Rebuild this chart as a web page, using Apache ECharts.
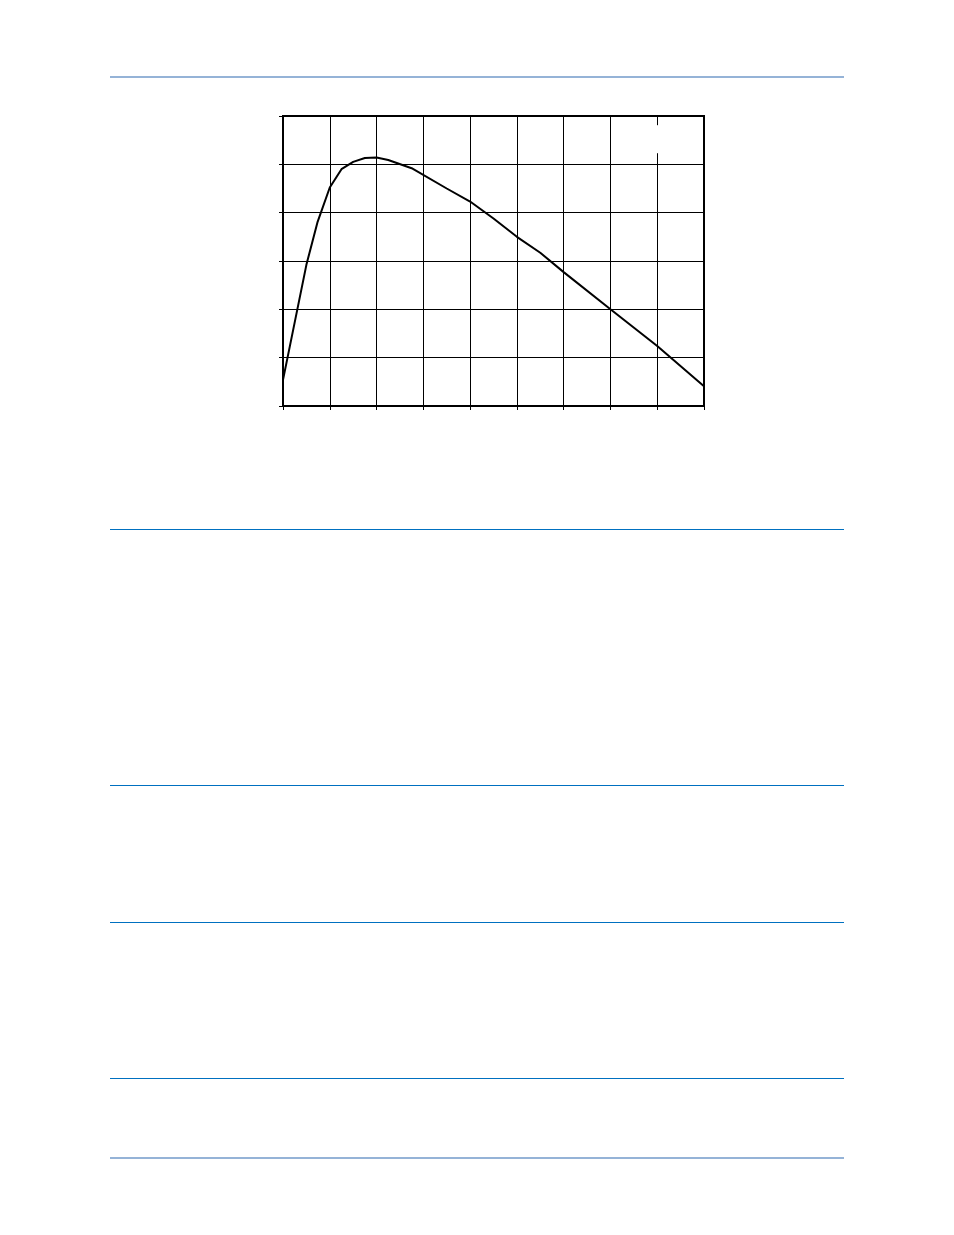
<!DOCTYPE html>
<html lang="en">
  <head>
    <meta charset="UTF-8" />
    <title>Curve chart</title>
    <script src="https://cdn.jsdelivr.net/npm/echarts@6.0.0/dist/echarts.min.js"></script>
    <style>
      html, body { margin: 0; padding: 0; background: #fff; }
      #main { width: 954px; height: 1235px; }
    </style>
  </head>
  <body>
    <div id="main"></div>

    <script>
      // values (grid units, 9 x 6 cells)
      const xValues = [0, 0.5, 0.74, 1, 1.25, 1.5, 1.75, 2, 2.25, 2.75, 3.5, 4, 4.5, 5, 5.5, 6, 7, 8, 9];
      const yValues = [0.54, 2.92, 3.81, 4.52, 4.9, 5.05, 5.13, 5.14, 5.09, 4.92, 4.5, 4.23, 3.88, 3.5, 3.17, 2.77, 2.0, 1.24, 0.41];
      const xRange = [0, 9];
      const yRange = [0, 6];

      // horizontal rules of the page
      const pageRules = [
        { y: 77, color: '#95b3d7', width: 2 },
        { y: 529.5, color: '#0070c0', width: 1 },
        { y: 785.5, color: '#0070c0', width: 1 },
        { y: 922.5, color: '#0070c0', width: 1 },
        { y: 1078.5, color: '#0070c0', width: 1 },
        { y: 1158, color: '#95b3d7', width: 2 },
      ];

      const points = xValues.map((x, i) => [x, yValues[i]]);

      const axisCommon = {
        type: 'value',
        interval: 1,
        axisLabel: { show: false },
        axisLine: { show: true, lineStyle: { color: '#000', width: 2 } },
        axisTick: { show: true, length: 4, lineStyle: { color: '#000', width: 1 } },
        splitLine: { show: true, lineStyle: { color: '#000', width: 1 } },
      };

      const chart = echarts.init(document.getElementById('main'), null, { renderer: 'canvas' });

      chart.setOption({
        animation: false,
        backgroundColor: '#fff',
        grid: {
          left: 283,
          top: 116,
          width: 421,
          height: 290,
          show: true,
          borderColor: '#000',
          borderWidth: 2,
        },
        xAxis: Object.assign({}, axisCommon, { min: xRange[0], max: xRange[1] }),
        yAxis: Object.assign({}, axisCommon, { min: yRange[0], max: yRange[1] }),
        series: [
          {
            type: 'line',
            data: points,
            symbol: 'none',
            smooth: false,
            lineStyle: { color: '#000', width: 2 },
          },
        ],
        graphic: pageRules.map((r, i) => ({
          id: 'rule' + i,
          type: 'line',
          shape: { x1: 110, y1: r.y, x2: 844, y2: r.y },
          style: { stroke: r.color, lineWidth: r.width },
        })),
      });

      // small white gap on the gridline near the top right
      const a = chart.convertToPixel({ gridIndex: 0 }, [8, 5.81]);
      const b = chart.convertToPixel({ gridIndex: 0 }, [8, 5.23]);
      chart.setOption({
        graphic: [
          {
            id: 'gap',
            type: 'rect',
            shape: { x: a[0] - 2, y: a[1], width: 4, height: b[1] - a[1] },
            style: { fill: '#fff' },
            z: 10,
          },
        ],
      });
    </script>
  </body>
</html>
